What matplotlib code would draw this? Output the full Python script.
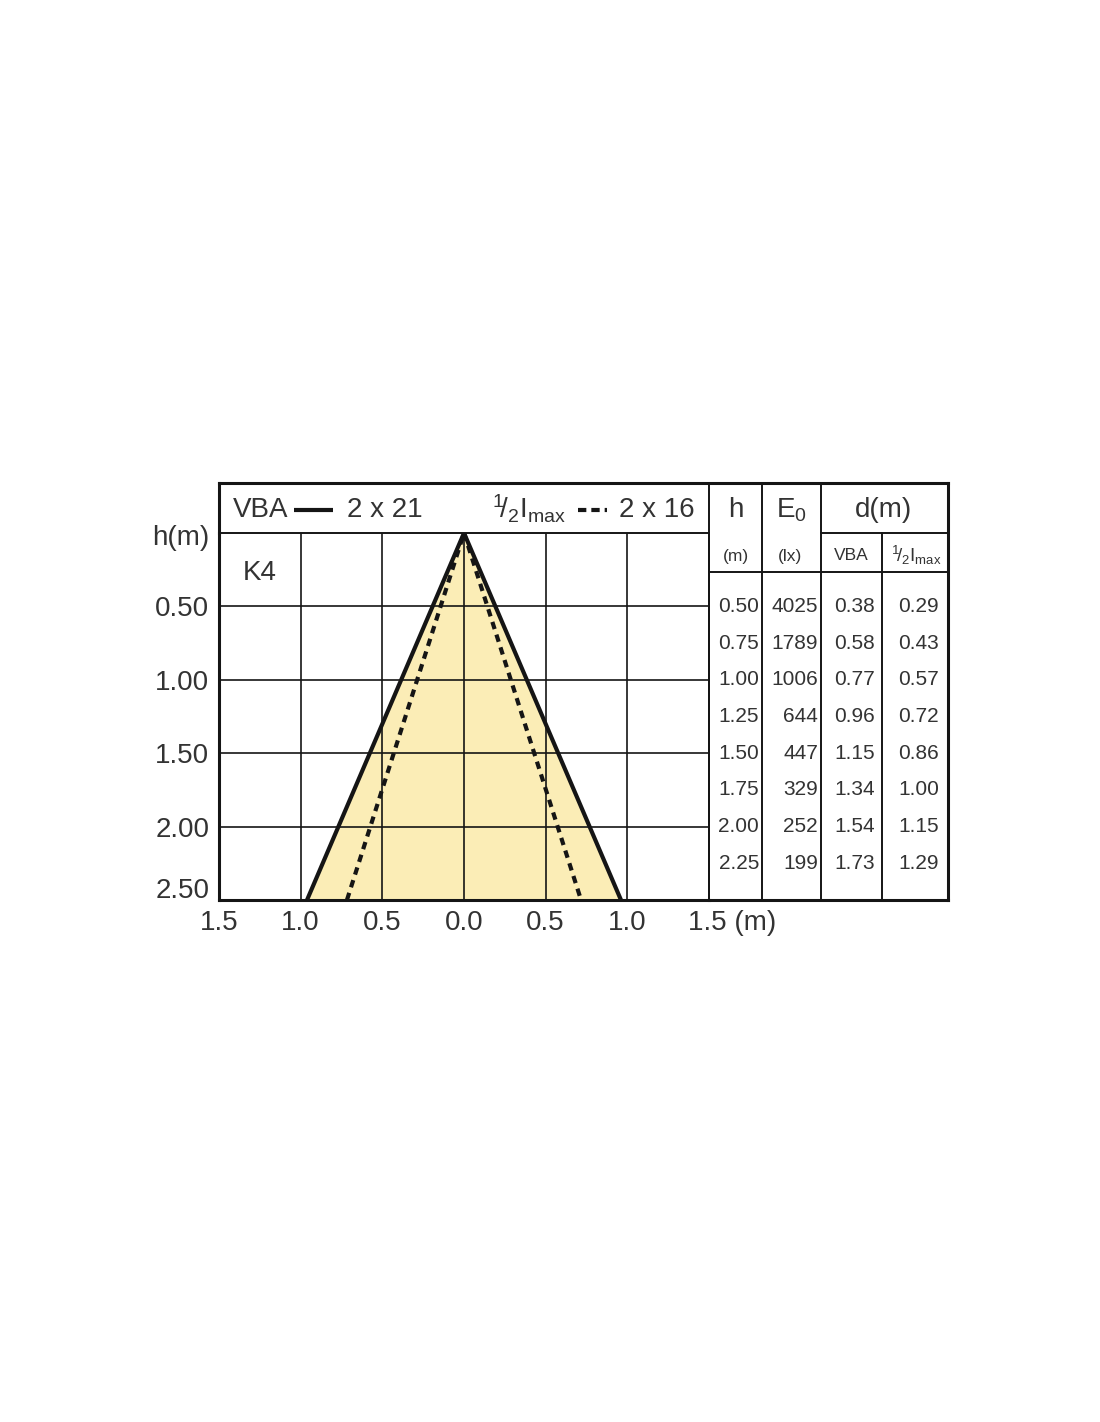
import numpy as np
import matplotlib
matplotlib.use("Agg")
import matplotlib.pyplot as plt
from matplotlib.transforms import ScaledTranslation, blended_transform_factory

plt.rcParams['font.family'] = ['Liberation Sans', 'DejaVu Sans']
plt.rcParams['mathtext.fontset'] = 'custom'
plt.rcParams['mathtext.rm'] = 'Liberation Sans'
plt.rcParams['mathtext.it'] = 'Liberation Sans'

# table data
h_rows = [0.50, 0.75, 1.00, 1.25, 1.50, 1.75, 2.00, 2.25]
e0_rows = [4025, 1789, 1006, 644, 447, 329, 252, 199]
d_vba = [0.38, 0.58, 0.77, 0.96, 1.15, 1.34, 1.54, 1.73]
d_half = [0.29, 0.43, 0.57, 0.72, 0.86, 1.00, 1.15, 1.29]

# axes ticks
x_ticks = [-1.5, -1.0, -0.5, 0.0, 0.5, 1.0, 1.5]
x_labels = ['1.5', '1.0', '0.5', '0.0', '0.5', '1.0', '1.5 (m)']
y_ticks = [0.0, 0.5, 1.0, 1.5, 2.0, 2.5]
y_labels = ['h(m)', '0.50', '1.00', '1.50', '2.00', '2.50']
grid_x = [-1.0, -0.5, 0.0, 0.5, 1.0]
grid_h = [0.5, 1.0, 1.5, 2.0]

TXT = '#333333'
LN = '#151515'
FILL = '#FBEDB6'
W, H = 1100, 1422

fig = plt.figure(figsize=(11, 14.22), dpi=100)
ax = fig.add_axes([219 / W, 1 - 900 / H, 490 / W, 367 / H])
ax.set_xlim(-1.5, 1.5)
ax.set_ylim(2.5, 0)

# cone edges through apex and last table row
slope_vba = (d_vba[-1] / 2) / h_rows[-1]
slope_half = (d_half[-1] / 2) / h_rows[-1]
hh = np.array([0.0, 3.0])
ax.fill_betweenx(hh, -slope_vba * hh, slope_vba * hh, color=FILL, lw=0, zorder=1)
for gx in grid_x:
    ax.axvline(gx, color=LN, lw=1.2, zorder=2)
for gh in grid_h:
    ax.axhline(gh, color=LN, lw=1.2, zorder=2)
for s in (-1, 1):
    ax.axline((0, 0), (s * d_vba[-1] / 2, h_rows[-1]), color=LN, lw=3.0, zorder=4,
              solid_joinstyle='miter')
    ax.axline((0, 0), (s * d_half[-1] / 2, h_rows[-1]), color=LN, lw=3.0, zorder=3,
              linestyle=(0, (1.8, 1.4)), dash_capstyle='butt')

ax.set_xticks(x_ticks, x_labels)
ax.set_yticks(y_ticks, y_labels)
ax.tick_params(length=0, labelsize=20, labelcolor=TXT)
ax.tick_params(axis='y', pad=7)
ax.tick_params(axis='x', pad=7)
ylab = ax.get_yticklabels()
ylab[-1].set_transform(ylab[-1].get_transform() + ScaledTranslation(0, 0.12, fig.dpi_scale_trans))
ylab[0].set_transform(ylab[0].get_transform() + ScaledTranslation(0, -0.02, fig.dpi_scale_trans))
xlab = ax.get_xticklabels()
xlab[-1].set_ha('left')
xlab[-1].set_transform(xlab[-1].get_transform() + ScaledTranslation(-0.205, 0, fig.dpi_scale_trans))
for side, lw in [('left', 2.2), ('bottom', 2.2), ('top', 1.4), ('right', 1.4)]:
    ax.spines[side].set_linewidth(lw)
    ax.spines[side].set_color(LN)
ax.text(-1.25, 0.27, 'K4', fontsize=20, color=TXT, ha='center', va='center')

# layout overlay for header and table
lay = fig.add_axes([0, 0, 1, 1], zorder=5)
lay.set_xlim(0, W)
lay.set_ylim(H, 0)
lay.axis('off')
lay.patch.set_alpha(0)

def seg(x0, y0, x1, y1, lw=1.4):
    lay.plot([x0, x1], [y0, y1], color=LN, lw=lw, solid_capstyle='projecting')

seg(219, 483, 948, 483, 2.2)
seg(219, 483, 219, 533, 2.2)
seg(948, 483, 948, 900, 2.2)
seg(709, 900, 948, 900, 2.2)
seg(709, 483, 709, 900)
seg(762, 483, 762, 900)
seg(821, 483, 821, 900)
seg(882, 533, 882, 900)
seg(821, 533, 948, 533)
seg(709, 572, 948, 572)

half_imax = r'$^{1}\!/_{2}\mathregular{I}_{\mathregular{max}}$'

# header legend
yh = 510
lay.text(233, yh, 'VBA', fontsize=20, color=TXT, ha='left', va='center')
lay.plot([294, 333], [yh, yh], color=LN, lw=3.0, solid_capstyle='butt')
lay.text(347, yh, '2 x 21', fontsize=20, color=TXT, ha='left', va='center')
lay.text(492, yh - 1, half_imax, fontsize=20, color=TXT, ha='left', va='center')
lay.plot([578, 607], [yh, yh], color=LN, lw=3.0, linestyle=(0, (2.0, 1.2)),
         dash_capstyle='butt')
lay.text(619, yh, '2 x 16', fontsize=20, color=TXT, ha='left', va='center')

# table header
lay.text(736, yh, 'h', fontsize=20, color=TXT, ha='center', va='center')
lay.text(791, yh, r'E$_{\mathregular{0}}$', fontsize=20, color=TXT, ha='center', va='center')
lay.text(884, yh, 'd(m)', fontsize=20, color=TXT, ha='center', va='center')
ys = 556
lay.text(736, ys, '(m)', fontsize=12.5, color=TXT, ha='center', va='center')
lay.text(790, ys, '(lx)', fontsize=12.5, color=TXT, ha='center', va='center')
lay.text(851, ys, 'VBA', fontsize=12.5, color=TXT, ha='center', va='center')
lay.text(916, ys - 1, half_imax, fontsize=13.5, color=TXT, ha='center', va='center')

# table body, rows aligned with chart h scale
tr = blended_transform_factory(lay.transData, ax.transData)
for h, e, dv, dh in zip(h_rows, e0_rows, d_vba, d_half):
    kw = dict(fontsize=15, color=TXT, ha='right', va='center', transform=tr)
    lay.text(759, h, f'{h:.2f}', **kw)
    lay.text(818, h, f'{e}', **kw)
    lay.text(875, h, f'{dv:.2f}', **kw)
    lay.text(939, h, f'{dh:.2f}', **kw)

fig.savefig('out.png', dpi=100)
